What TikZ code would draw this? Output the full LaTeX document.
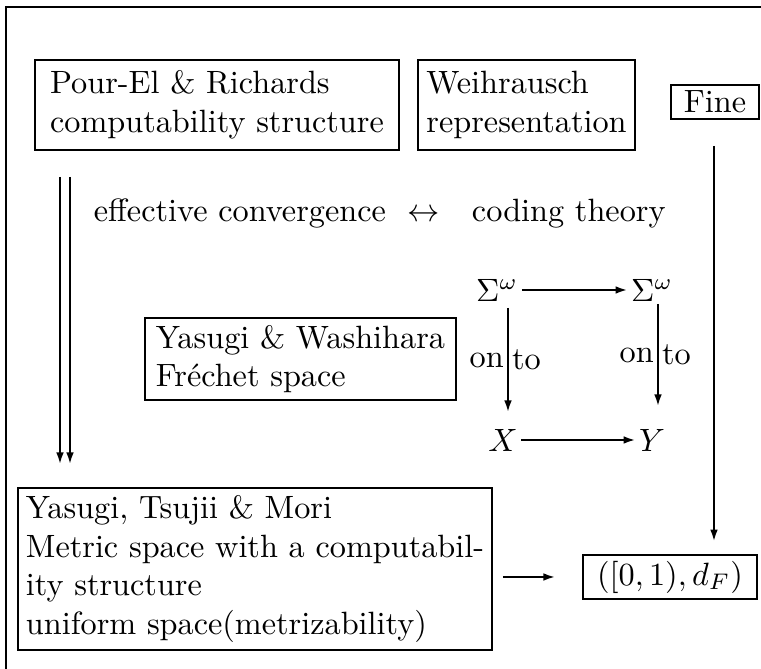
\documentclass[tikz,border=0pt]{standalone}
\usetikzlibrary{arrows.meta}
\begin{document}
\begin{tikzpicture}[x=0.31pt,y=-0.31pt,
  txt/.style={font=\fontsize{10}{12}\selectfont},
  box/.style={txt,draw,line width=0.6pt,align=left,inner sep=0pt},
  lbl/.style={txt,inner sep=1pt},
  arr/.style={-{Latex[length=3.6pt,width=2.4pt]},line width=0.6pt}]
\useasboundingbox (0,0) rectangle (761,669);
\draw[line width=0.7pt] (6,720) -- (6,7) -- (800,7);
\node[box,minimum width=113pt,minimum height=27.9pt] (pr) at (217,105) {Pour-El \& Richards\\computability structure};
\node[box,minimum width=67.3pt,minimum height=27.9pt] (we) at (526.5,105) {Weihrausch\\representation};
\node[box,minimum width=27.3pt,minimum height=10.5pt] (fi) at (715,102) {Fine};
\node[box,minimum width=96.4pt,minimum height=25.4pt] (yw) at (300.5,359) {Yasugi \& Washihara\\Fr\'echet space};
\node[box,minimum width=147pt,minimum height=50.2pt] (ytm) at (255,569) {Yasugi, Tsujii \& Mori\\Metric space with a computabil-\\ity structure\\uniform space(metrizability)};
\node[box,minimum width=53.9pt,minimum height=13.6pt] (df) at (670,577) {$([0,1),d_F)$};
\node[lbl,anchor=west] (ec) at (90,213) {effective convergence \ $\leftrightarrow$\ \ \ coding theory};
\node[lbl] (s1) at (497,290) {$\Sigma^\omega$};
\node[lbl] (s2) at (652,290) {$\Sigma^\omega$};
\node[lbl] (x) at (503,440) {$X$};
\node[lbl] (y) at (652,440) {$Y$};
\coordinate (d1a) at (60,177); \coordinate (d1b) at (60,464);
\coordinate (d2a) at (70,177); \coordinate (d2b) at (70,464);
\draw[arr] (d1a) -- (d1b);
\draw[arr] (d2a) -- (d2b);
\coordinate (fa) at (714,146);
\draw[arr,shorten >=4pt] (fa) -- (fa |- df.north);
\draw[arr] (s1) -- (s2);
\draw[arr] (x) -- (y);
\coordinate (v1a) at (508,308); \coordinate (v1b) at (508,412);
\coordinate (v2a) at (658,304); \coordinate (v2b) at (658,406);
\draw[arr] (v1a) -- (v1b) node[midway,left=1pt,lbl,inner sep=0pt]{on} node[midway,right=1pt,lbl,inner sep=0pt]{to};
\draw[arr] (v2a) -- (v2b) node[midway,left=1pt,lbl,inner sep=0pt]{on} node[midway,right=1pt,lbl,inner sep=0pt]{to};
\coordinate (ha) at (503,577); \coordinate (hb) at (555,577);
\draw[arr] (ha) -- (hb);
\end{tikzpicture}
\end{document}
